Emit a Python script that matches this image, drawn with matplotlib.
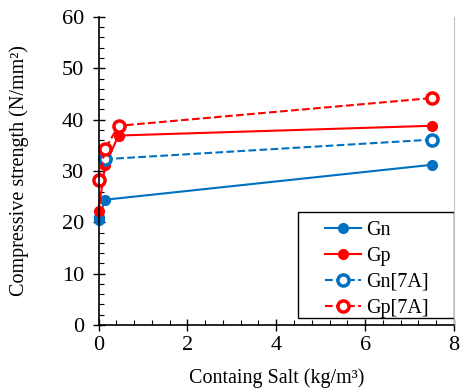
import matplotlib
matplotlib.use("Agg")
import matplotlib.pyplot as plt
from matplotlib.ticker import MultipleLocator
from matplotlib.patches import Rectangle

plt.rcParams['font.family'] = ['Liberation Serif', 'DejaVu Serif']
plt.rcParams['font.serif'] = ['Liberation Serif', 'DejaVu Serif']

# данные
gn_x = [0, 0.01, 0.15, 7.5]
gn_y = [20.4, 21.0, 24.4, 31.2]
gp_x = [0, 0.15, 0.45, 7.5]
gp_y = [22.3, 31.2, 36.9, 38.8]
gn7_x = [0.15, 7.5]
gn7_y = [32.3, 36.1]
gp7_x = [0, 0.15, 0.45, 7.5]
gp7_y = [28.2, 34.3, 38.8, 44.2]

x_ticks = [0, 2, 4, 6, 8]
y_ticks = [0, 10, 20, 30, 40, 50, 60]

blue = "#0070C0"
red = "#FF0000"
serif = ['Liberation Serif', 'DejaVu Serif']

fig = plt.figure(figsize=(4.61, 3.89), dpi=100)
ax = fig.add_axes([0.2137, 0.1645, 0.771, 0.792])

ax.plot(gn_x, gn_y, "-o", color=blue, lw=1.5, ms=7, label="Gn", clip_on=False)
ax.plot(gp_x, gp_y, "-o", color=red, lw=1.5, ms=7, label="Gp", clip_on=False)
ax.plot(gn7_x, gn7_y, "--o", color=blue, lw=1.5, ms=8, mfc="white", mew=2.5,
        label="Gn[7A]", clip_on=False)
ax.plot(gp7_x, gp7_y, "--o", color=red, lw=1.5, ms=8, mfc="white", mew=2.5,
        label="Gp[7A]", clip_on=False)

ax.set_xlim(0, 8)
ax.set_ylim(0, 60)
ax.set_xticks(x_ticks, [str(t) for t in x_ticks], fontfamily=serif, fontsize=16)
ax.set_yticks(y_ticks, [str(t) for t in y_ticks], fontfamily=serif, fontsize=16)
ax.xaxis.set_minor_locator(MultipleLocator(0.4))
ax.yaxis.set_minor_locator(MultipleLocator(2))
ax.tick_params(axis="x", which="major", direction="inout", length=8.5, width=1, pad=4)
ax.tick_params(axis="y", which="major", direction="inout", length=8.5, width=1, pad=6)
ax.tick_params(which="minor", direction="in", length=3.5, width=0.8)

ax.spines["top"].set_visible(False)
ax.spines["right"].set_color("#c0c0c0")
ax.spines["left"].set_linewidth(1.2)
ax.spines["bottom"].set_linewidth(1.2)

ax.set_xlabel("Containg Salt (kg/m³)", fontsize=14.5, fontfamily=serif)
ax.set_ylabel("Compressive strength (N/mm²)", fontsize=14.5, fontfamily=serif)
ax.xaxis.set_label_coords(0.5, -0.142)
ax.yaxis.set_label_coords(-0.196, 0.5)

# рамка легенды отдельно - она шире, чем содержимое
ax.add_patch(Rectangle((0.562, 0.022), 0.438, 0.344, transform=ax.transAxes,
                       facecolor="white", edgecolor="black", lw=1.0, zorder=4))
leg = ax.legend(loc="center", bbox_to_anchor=(0.782, 0.180),
                prop={"family": serif, "size": 14.5}, frameon=False,
                handlelength=1.8, handletextpad=0.25, borderpad=0.0,
                labelspacing=0.33, borderaxespad=0.0)
leg.set_zorder(5)

fig.savefig("out.png", dpi=100)
